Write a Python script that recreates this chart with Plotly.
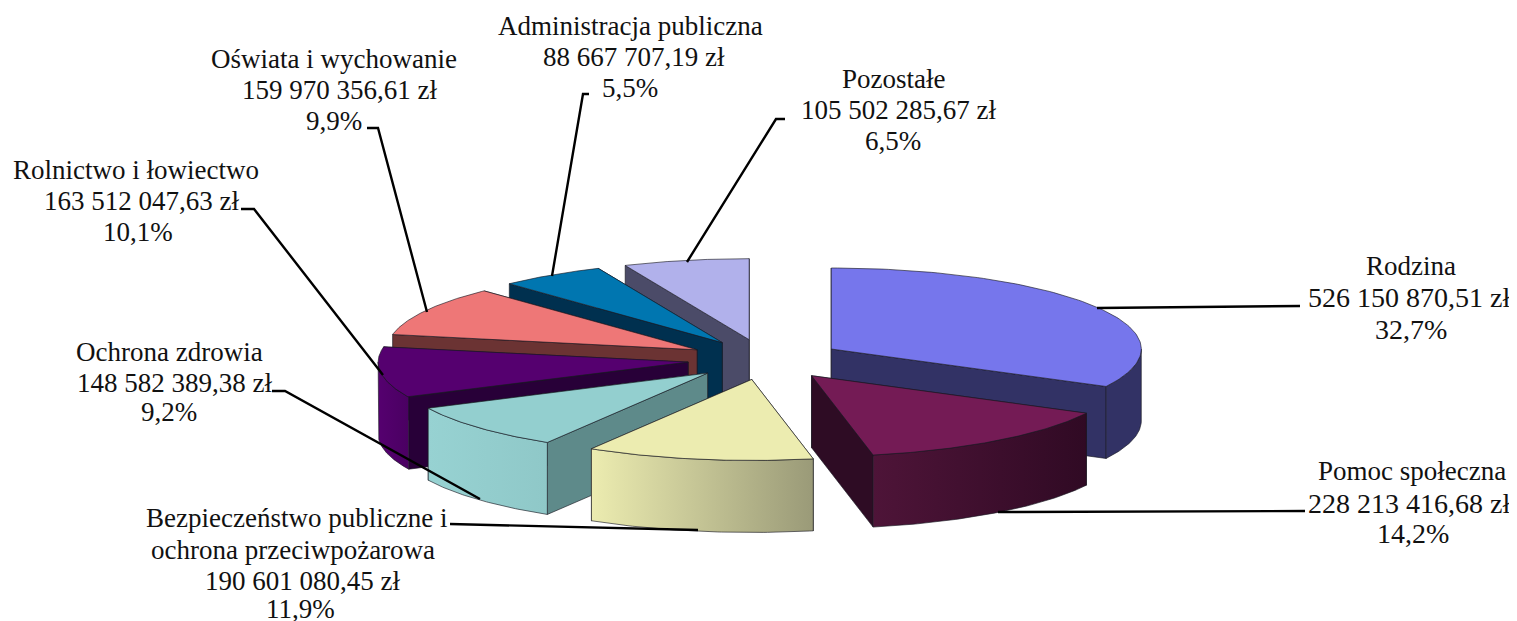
import math
import plotly.graph_objects as go

# ---- data (clockwise from 12 o'clock) ----
categories = ["Rodzina", "Pomoc społeczna", "Bezpieczeństwo publiczne i ochrona przeciwpożarowa",
              "Ochrona zdrowia", "Rolnictwo i łowiectwo", "Oświata i wychowanie",
              "Administracja publiczna", "Pozostałe"]
values = [526150870.51, 228213416.68, 190601080.45, 148582389.38,
          163512047.63, 159970356.61, 88667707.19, 105502285.67]
value_labels = ["526 150 870,51 zł", "228 213 416,68 zł", "190 601 080,45 zł", "148 582 389,38 zł",
                "163 512 047,63 zł", "159 970 356,61 zł", "88 667 707,19 zł", "105 502 285,67 zł"]
percent_labels = ["32,7%", "14,2%", "11,9%", "9,2%", "10,1%", "9,9%", "5,5%", "6,5%"]

# ---- styles ----
top_colors = ["#7676EC", "#741B55", "#ECECB0", "#93CFCF", "#55006F", "#EE7777", "#0076B0", "#B1B1EB"]
wall_colors = ["#323265", "#2E0C24", "#8F8F70", "#5E8A8A", "#280038", "#6B3333", "#00304F", "#4B4B68"]
side_left = ["#323265", "#4E1438", "#ECECB0", "#97D2D2", "#55006F", "#6B3333", "#00304F", "#4B4B68"]
side_right = ["#323265", "#300A24", "#9A9A78", "#8FC8C8", "#4A0062", "#6B3333", "#00304F", "#4B4B68"]
edge = "rgba(25,25,35,0.8)"

CX, CY, A, B, DEPTH, PULL = 765, 359.5, 310, 81, 72, 0.25

text_lines = [
    [("Rodzina", 1411, 266, 27), (value_labels[0], 1409, 297, 28), (percent_labels[0], 1411, 329, 28)],
    [("Pomoc społeczna", 1412, 471, 27), (value_labels[1], 1409, 503, 28), (percent_labels[1], 1413, 533, 28)],
    [("Bezpieczeństwo publiczne i", 296, 518, 27), ("ochrona przeciwpożarowa", 293, 550, 27),
     (value_labels[2], 302, 581, 27), (percent_labels[2], 300, 609, 27)],
    [("Ochrona zdrowia", 169, 352, 27), (value_labels[3], 174, 383, 27), (percent_labels[3], 169, 412, 27)],
    [("Rolnictwo i łowiectwo", 136, 170, 27), (value_labels[4], 141, 201, 27), (percent_labels[4], 138, 232, 27)],
    [("Oświata i wychowanie", 334, 59, 27), (value_labels[5], 339, 90, 27), (percent_labels[5], 334, 121, 27)],
    [("Administracja publiczna", 630, 26, 27), (value_labels[6], 634, 57, 27), (percent_labels[6], 630, 88, 27)],
    [("Pozostałe", 893, 79, 27), (value_labels[7], 898, 110, 27), (percent_labels[7], 893, 141, 27)],
]
leaders = [
    [(1097, 308), (1300, 306)],
    [(998, 512), (1305, 511)],
    [(698, 530), (450, 524)],
    [(272, 391), (285, 391), (480, 499)],
    [(241, 209), (254, 209), (383, 375)],
    [(367, 128), (378, 128), (427, 312)],
    [(589, 94), (583, 94), (552, 276)],
    [(785, 119), (776, 119), (687, 262)],
]

total = sum(values)
spans, acc = [], 0.0
for v in values:
    spans.append((acc, acc + v / total * 2 * math.pi))
    acc += v / total * 2 * math.pi


def rim(ax, ay, t0, t1, n=60, dy=0.0):
    ts = [t0 + (t1 - t0) * k / n for k in range(n + 1)]
    return [ax + A * math.sin(t) for t in ts], [ay - B * math.cos(t) + dy for t in ts]


fig = go.Figure()


def poly(xs, ys, color=None, grad=None):
    kw = dict(x=xs, y=ys, mode="lines", fill="toself", hoverinfo="skip", showlegend=False,
              line=dict(color=edge, width=0.8))
    if grad:
        kw["fillgradient"] = dict(type="horizontal", colorscale=[[0, grad[0]], [1, grad[1]]],
                                  start=min(xs), stop=max(xs))
    else:
        kw["fillcolor"] = color
    fig.add_trace(go.Scatter(**kw))


order = [7, 6, 5, 4, 0, 3, 2, 1]  # back to front
for i in order:
    t0, t1 = spans[i]
    mid = (t0 + t1) / 2
    ax = CX + PULL * A * math.sin(mid)
    ay = CY - PULL * B * math.cos(mid)
    # radial walls, the one nearer the viewer last
    for t in sorted((t0, t1), key=lambda a: -math.cos(a)):
        rx, ry = ax + A * math.sin(t), ay - B * math.cos(t)
        poly([ax, rx, rx, ax, ax], [ay, ry, ry + DEPTH, ay + DEPTH, ay], wall_colors[i])
    # outer curved wall: only the part facing the viewer
    v0, v1 = max(t0, math.pi / 2), min(t1, 3 * math.pi / 2)
    if v1 > v0:
        xt, yt = rim(ax, ay, v0, v1)
        xb, yb = rim(ax, ay, v0, v1, dy=DEPTH)
        poly(xt + xb[::-1] + [xt[0]], yt + yb[::-1] + [yt[0]],
             grad=(side_left[i], side_right[i]))
    # top face
    xt, yt = rim(ax, ay, t0, t1, n=100)
    poly([ax] + xt + [ax], [ay] + yt + [ay], top_colors[i])

for pts in leaders:
    fig.add_trace(go.Scatter(x=[p[0] for p in pts], y=[p[1] for p in pts], mode="lines",
                             line=dict(color="#000000", width=2.4), hoverinfo="skip", showlegend=False))

annotations = []
for group in text_lines:
    for txt, x, y, size in group:
        annotations.append(dict(x=x, y=y, xref="x", yref="y", text=txt, showarrow=False,
                                xanchor="center", yanchor="middle",
                                font=dict(family="Liberation Serif", size=size, color="#111111")))

# The page places the figure 8 px from its top-left corner; the ranges start there.
fig.update_layout(
    width=1509, height=613, margin=dict(l=0, r=0, t=0, b=0),
    paper_bgcolor="white", plot_bgcolor="white", showlegend=False, annotations=annotations,
    xaxis=dict(range=[8, 1517], visible=False, fixedrange=True),
    yaxis=dict(range=[621, 8], visible=False, fixedrange=True),
)
fig.write_html("out.html", config={"displayModeBar": False})
